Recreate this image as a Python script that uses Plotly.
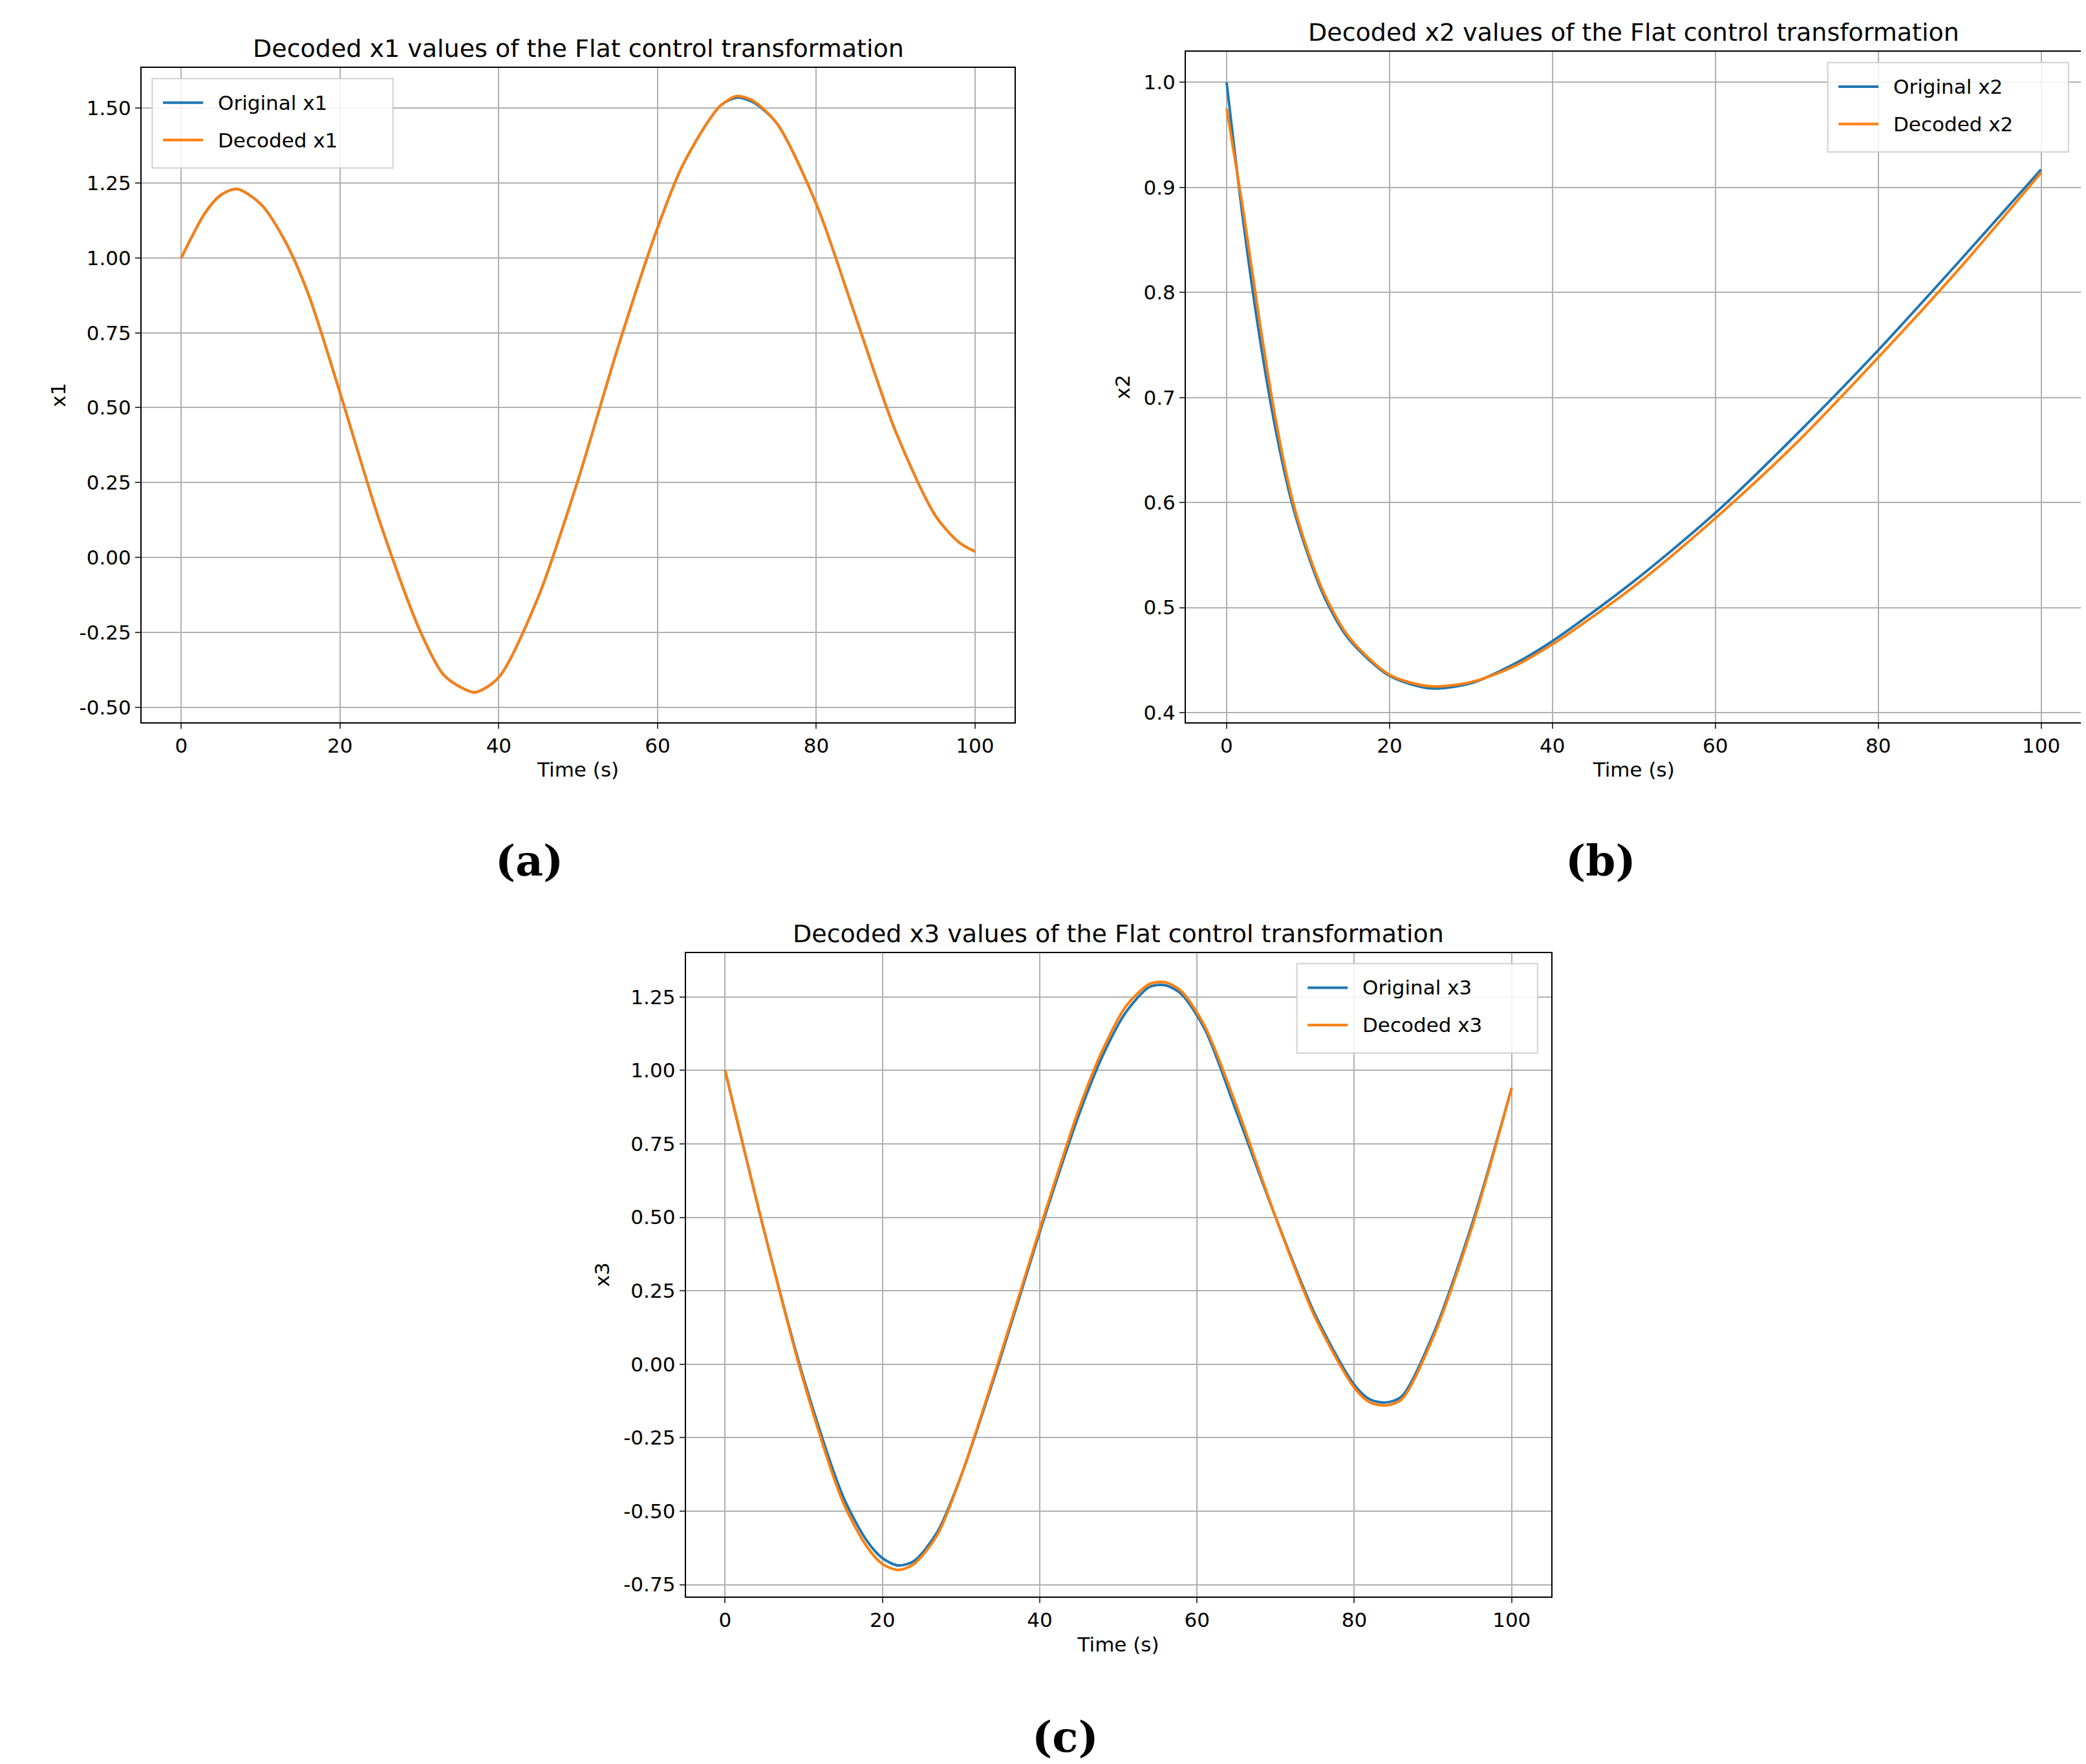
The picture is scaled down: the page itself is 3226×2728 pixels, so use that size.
import plotly.graph_objects as go

t1 = [0,3,5,7,10,13,16,20,25,30,33,35,37,40,45,50,55,60,63,66,68,70,72,75,80,85,90,95,98,100]
x1_orig = [1.0,1.15,1.21,1.23,1.18,1.06,0.88,0.55,0.12,-0.24,-0.39,-0.43,-0.45,-0.40,-0.13,0.26,0.70,1.10,1.30,1.44,1.51,1.535,1.52,1.45,1.18,0.80,0.42,0.14,0.05,0.02]
x1_dec = [1.0,1.15,1.21,1.23,1.18,1.06,0.88,0.55,0.12,-0.24,-0.39,-0.43,-0.45,-0.40,-0.13,0.26,0.70,1.10,1.30,1.44,1.51,1.54,1.525,1.45,1.18,0.80,0.42,0.14,0.05,0.02]

t2 = [0,2,4,6,8,10,12,15,20,25,30,35,40,50,60,70,80,90,100]
x2_orig = [1.0,0.87,0.76,0.67,0.60,0.55,0.51,0.47,0.435,0.423,0.428,0.445,0.468,0.525,0.59,0.665,0.745,0.83,0.917]
x2_dec = [0.975,0.88,0.775,0.68,0.605,0.553,0.513,0.472,0.436,0.425,0.429,0.443,0.465,0.52,0.585,0.657,0.738,0.823,0.914]

t3 = [0,5,10,15,18,20,22,24,27,30,35,40,45,48,51,54,56,58,61,65,70,75,80,82,84,86,90,95,100]
x3_orig = [1.0,0.45,-0.05,-0.45,-0.60,-0.66,-0.685,-0.67,-0.57,-0.38,0.02,0.45,0.85,1.05,1.20,1.285,1.29,1.26,1.14,0.86,0.50,0.17,-0.07,-0.12,-0.13,-0.11,0.10,0.48,0.94]
x3_dec = [1.0,0.45,-0.06,-0.47,-0.62,-0.68,-0.70,-0.68,-0.58,-0.38,0.03,0.46,0.87,1.07,1.22,1.295,1.30,1.27,1.15,0.88,0.50,0.16,-0.08,-0.13,-0.14,-0.12,0.09,0.47,0.94]

BLUE = "#1f77b4"; ORANGE = "#ff7f0e"
W, H = 3226, 2728
fig = go.Figure()

panels = [
    ("x", "y", t1, x1_orig, x1_dec, "x1", [102, 755, 47, 537], [-0.549, 1.634], [-0.5,-0.25,0,0.25,0.5,0.75,1.0,1.25,1.5], "%.2f"),
    ("x2", "y2", t2, x2_orig, x2_dec, "x2", [883, 1553, 35, 537], [0.391, 1.029], [0.4,0.5,0.6,0.7,0.8,0.9,1.0], "%.1f"),
    ("x3", "y3", t3, x3_orig, x3_dec, "x3", [509, 1156, 710, 1192], [-0.79, 1.40], [-0.75,-0.5,-0.25,0,0.25,0.5,0.75,1.0,1.25], "%.2f"),
]
titles = ["Decoded x1 values of the Flat control transformation",
          "Decoded x2 values of the Flat control transformation",
          "Decoded x3 values of the Flat control transformation"]
tickfont = dict(family="DejaVu Sans", size=31, color="black")
for i, (xa, ya, t, o, d, name, box, yr, yt, fmt) in enumerate(panels):
    l, r, tp, b = box
    for vals, col in [(o, BLUE), (d, ORANGE)]:
        fig.add_trace(go.Scatter(x=t, y=vals, mode="lines", line=dict(color=col, width=4, shape="spline", smoothing=0.8),
                                 xaxis=xa, yaxis=ya, showlegend=False))
    k = "" if i == 0 else str(i + 1)
    fig.layout["xaxis" + k] = dict(domain=[l / 1560, r / 1560], anchor=ya, range=[-5, 105],
        tickvals=[0,20,40,60,80,100], showgrid=True, gridcolor="#b0b0b0", gridwidth=2,
        showline=True, linecolor="black", linewidth=2, mirror=True, ticks="outside", ticklen=8,
        tickwidth=2, tickfont=tickfont, zeroline=False,
        title=dict(text="Time (s)", font=tickfont, standoff=10))
    fig.layout["yaxis" + k] = dict(domain=[1 - b / 1320, 1 - tp / 1320], anchor=xa, range=yr,
        tickvals=yt, ticktext=[fmt % v for v in yt], showgrid=True, gridcolor="#b0b0b0", gridwidth=2,
        showline=True, linecolor="black", linewidth=2, mirror=True, ticks="outside", ticklen=8,
        tickwidth=2, tickfont=tickfont, zeroline=False,
        title=dict(text=name, font=tickfont, standoff=12))
    fig.add_annotation(x=(l + r) / 2 / 1560, y=1 - tp / 1320, xref="paper", yref="paper",
        text=titles[i], showarrow=False, xanchor="center", yanchor="bottom", yshift=6,
        font=dict(family="DejaVu Sans", size=38, color="black"))
    lx = l + 8 if i == 0 else r - 190
    off = 0 if i == 0 else 0
    leg = [(BLUE, "Original " + name), (ORANGE, "Decoded " + name)]
    fig.add_shape(type="rect", xref="paper", yref="paper", x0=lx / 1560, x1=(lx + 180) / 1560,
        y0=1 - (tp + 75) / 1320, y1=1 - (tp + 8) / 1320,
        line=dict(color="#d0d0d0", width=2), fillcolor="rgba(255,255,255,0.85)")
    for j, (c, txt) in enumerate(leg):
        yy = 1 - (tp + 8 + 18 + 28 * j) / 1320
        fig.add_shape(type="line", xref="paper", yref="paper", x0=(lx + 8) / 1560, x1=(lx + 38) / 1560,
            y0=yy, y1=yy, line=dict(color=c, width=4))
        fig.add_annotation(x=(lx + 48) / 1560, y=yy, xref="paper", yref="paper", text=txt,
            showarrow=False, xanchor="left", yanchor="middle", font=tickfont)

for txt, cx, cy in [("(a)", 392, 641), ("(b)", 1193, 641), ("(c)", 793, 1297)]:
    fig.add_annotation(x=cx / 1560, y=1 - cy / 1320, xref="paper", yref="paper", text="<b>%s</b>" % txt,
        showarrow=False, xanchor="center", yanchor="middle",
        font=dict(family="DejaVu Serif", size=66, color="black"))

fig.update_layout(width=W, height=H, margin=dict(l=0, r=0, t=0, b=0),
                  paper_bgcolor="white", plot_bgcolor="white", showlegend=False)
fig.write_html("out.html")
